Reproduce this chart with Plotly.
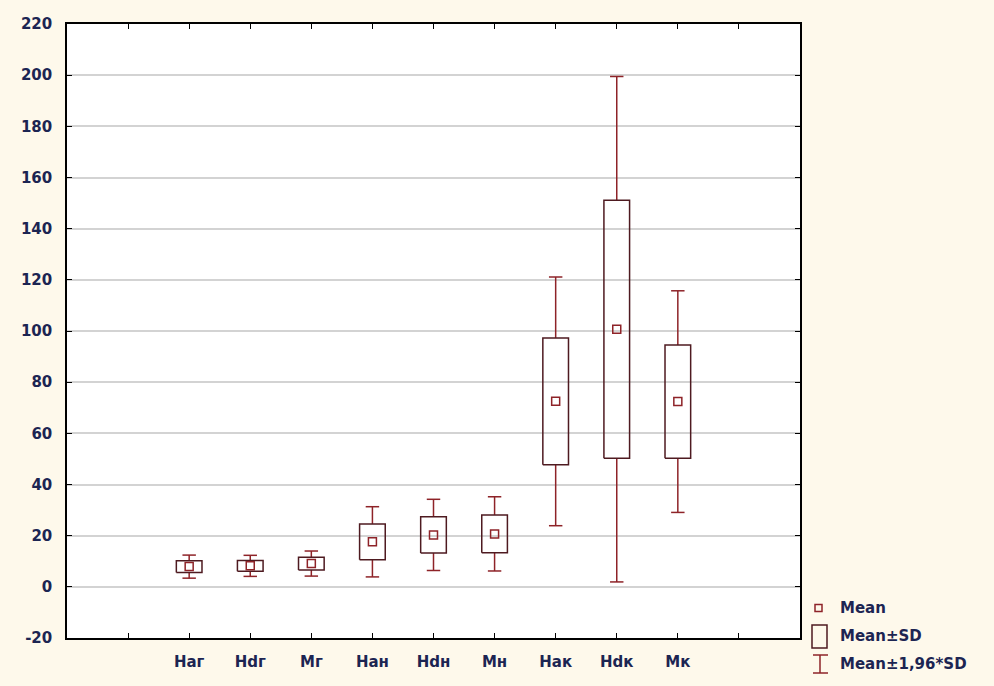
import plotly.graph_objects as go

categories = ["Hаг", "Hdг", "Mг", "Hан", "Hdн", "Mн", "Hак", "Hdк", "Mк"]
means = [7.9, 8.2, 9.1, 17.6, 20.3, 20.7, 72.5, 100.7, 72.4]
sds = [2.3, 2.1, 2.5, 7.0, 7.1, 7.4, 24.8, 50.4, 22.1]
y_ticks = list(range(-20, 221, 20))
y_tick_labels = [str(v) for v in y_ticks]

BOX_C = "#4e1a20"
WH_C = "#8e2328"
TXT_C = "#1c2552"
BG = "#fef9eb"
FONT = "DejaVu Sans"
FS = 15
FW = "bold"

xs = list(range(1, len(categories) + 1))
box_half = 0.21
cap_half = 0.11
k = 1.96

# whiskers
wx, wy = [], []
cx, cy = [], []
for x, m, s in zip(xs, means, sds):
    wx += [x, x, None, x, x, None]
    wy += [m + s, m + k * s, None, m - s, m - k * s, None]
    for v in (m + k * s, m - k * s):
        cx += [x - cap_half, x + cap_half, None]
        cy += [v, v, None]

# boxes
bx, by = [], []
for x, m, s in zip(xs, means, sds):
    bx += [x - box_half, x + box_half, x + box_half, x - box_half, x - box_half, None]
    by += [m - s, m - s, m + s, m + s, m - s, None]

fig = go.Figure()
fig.add_trace(go.Scatter(x=wx, y=wy, mode="lines", line=dict(color=WH_C, width=1.5),
                         showlegend=False, hoverinfo="skip"))
fig.add_trace(go.Scatter(x=cx, y=cy, mode="lines", line=dict(color=WH_C, width=1.5),
                         showlegend=False, hoverinfo="skip"))
fig.add_trace(go.Scatter(x=bx, y=by, mode="lines", line=dict(color=BOX_C, width=1.5),
                         showlegend=False, hoverinfo="skip"))
fig.add_trace(go.Scatter(x=xs, y=means, mode="markers",
                         marker=dict(symbol="square-open", size=8, color=WH_C,
                                     line=dict(width=1.5, color=WH_C)),
                         showlegend=False))

tf = dict(family=FONT, size=FS, color=TXT_C, weight=FW)
fig.update_xaxes(range=[-1, 11], tickvals=list(range(0, 11)),
                 ticktext=[""] + categories + [""],
                 showgrid=False, zeroline=False, showline=True, linecolor="black", linewidth=1.5,
                 mirror="ticks", ticks="inside", ticklen=5, tickcolor="black", tickwidth=1,
                 tickfont=tf, ticklabelstandoff=9)
fig.update_yaxes(range=[-20, 220], tickvals=y_ticks, ticktext=y_tick_labels,
                 showgrid=True, gridcolor="#d3d3d3", gridwidth=1.5, zeroline=False,
                 showline=True, linecolor="black", linewidth=1.5,
                 mirror="ticks", ticks="inside", ticklen=5, tickcolor="black", tickwidth=1,
                 tickfont=tf, ticklabelstandoff=10)

W, H = 994, 686
ml, mr, mt, mb = 67, 194, 24, 48
pw, ph = W - ml - mr, H - mt - mb
def PX(x):
    return (x - ml) / pw
def PY(y):
    return (H - mb - y) / ph

shapes = []
annos = []
shapes.append(dict(type="rect", xref="paper", yref="paper",
                   x0=PX(815), x1=PX(822), y0=PY(611.5), y1=PY(604.5),
                   line=dict(color=WH_C, width=1.5)))
shapes.append(dict(type="rect", xref="paper", yref="paper",
                   x0=PX(812), x1=PX(827), y0=PY(648), y1=PY(625),
                   line=dict(color=BOX_C, width=1.5)))
shapes.append(dict(type="line", xref="paper", yref="paper",
                   x0=PX(820), x1=PX(820), y0=PY(673), y1=PY(655),
                   line=dict(color=WH_C, width=1.5)))
shapes.append(dict(type="line", xref="paper", yref="paper",
                   x0=PX(813), x1=PX(828), y0=PY(655), y1=PY(655),
                   line=dict(color=WH_C, width=1.5)))
shapes.append(dict(type="line", xref="paper", yref="paper",
                   x0=PX(813), x1=PX(828), y0=PY(673), y1=PY(673),
                   line=dict(color=WH_C, width=1.5)))
for text, yy in [("Mean", 608), ("Mean±SD", 636), ("Mean±1,96*SD", 664)]:
    annos.append(dict(text=text, xref="paper", yref="paper", x=PX(838), y=PY(yy),
                      xanchor="left", yanchor="middle", showarrow=False,
                      font=tf))

fig.update_layout(width=W, height=H, margin=dict(l=ml, r=mr, t=mt, b=mb),
                  paper_bgcolor=BG, plot_bgcolor="white",
                  shapes=shapes, annotations=annos, showlegend=False)

fig.write_html("out.html", config={"displayModeBar": False},
               post_script="document.body.style.margin='0';document.body.style.background='%s';" % BG)
